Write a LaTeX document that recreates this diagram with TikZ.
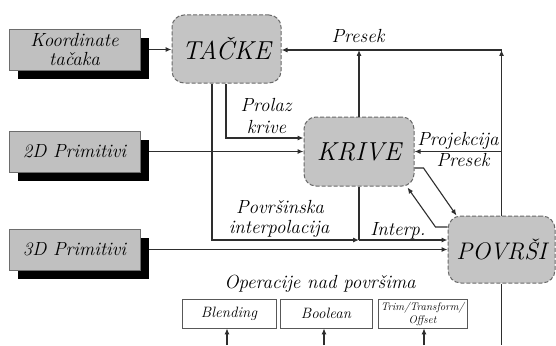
\documentclass[tikz,border=0pt]{standalone}
\usetikzlibrary{arrows.meta}
\newcommand\diagfont{\rmfamily\itshape}
\definecolor{boxgray}{HTML}{C0C0C0}
\definecolor{nodegray}{HTML}{C4C4C4}
\definecolor{dashgray}{HTML}{6A6A6A}
\definecolor{linecol}{HTML}{2E2E2E}
\begin{document}
\begin{tikzpicture}[x=1pt,y=-1pt,
 primbox/.style={draw=linecol!70, fill=boxgray, line width=0.8pt, minimum width=131pt, minimum height=41pt, inner sep=0pt, align=center, font=\diagfont\fontsize{19}{19}\selectfont},
 shadowbox/.style={fill=black, minimum width=131pt, minimum height=41pt, inner sep=0pt},
 mainnode/.style={draw=dashgray, dash pattern=on 4pt off 2pt, fill=nodegray, rounded corners=12pt, line width=1pt, inner sep=0pt, font=\diagfont\fontsize{26}{28}\selectfont},
 opbox/.style={draw=linecol!80, fill=white, line width=0.8pt, minimum height=29pt, inner sep=0pt, align=center, font=\diagfont\fontsize{15}{16}\selectfont},
 conn/.style={draw=linecol, line width=1.1pt},
 arr/.style={conn, -{Latex[length=6pt,width=5pt]}},
 lbl/.style={font=\diagfont\fontsize{19}{21}\selectfont, inner sep=0pt, anchor=base}
]
\fill[white] (0,0) rectangle (556,345);
\useasboundingbox (0,0) rectangle (556,345);

% source boxes with shadows
\node[shadowbox] (koordS) at (83.5,58.5) {};
\node[primbox] (koord) at (74.5,49.5) {Koordinate\\tačaka};
\node[shadowbox] (prim2S) at (83.5,160.5) {};
\node[primbox] (prim2) at (74.5,151.5) {2D Primitivi};
\node[shadowbox] (prim3S) at (83.5,258.5) {};
\node[primbox] (prim3) at (74.5,249.5) {3D Primitivi};

% main nodes
\node[mainnode, minimum width=109pt, minimum height=68pt] (tacke) at (226.5,49) {TAČKE};
\node[mainnode, minimum width=110pt, minimum height=69pt] (krive) at (359,151.5) {KRIVE};
\node[mainnode, minimum width=107pt, minimum height=67pt, rounded corners=13pt, font=\diagfont\fontsize{24}{26}\selectfont] (povrsi) at (501.5,249.5) {POVRŠI};

% operation boxes
\node[opbox, minimum width=94pt] (blend) at (229,313.5) {Blending};
\node[opbox, minimum width=92pt] (bool) at (326,313.5) {Boolean};
\node[opbox, minimum width=89pt, font=\diagfont\fontsize{11}{13}\selectfont] (trim) at (422.5,313.5) {Trim/Transform/\\Offset};

% coordinates
\coordinate (j) at (359,240);
\coordinate (pt) at (501.5,50);
\coordinate (kt) at (359,50);
\coordinate (bot) at (501.5,345);
\coordinate (bb1) at (227,345);
\coordinate (bb2) at (324,345);
\coordinate (bb3) at (424,345);

% connectors
\draw[arr] (koordS.east |- koord.east) -- (tacke.west |- koord.east);
\draw[arr] (prim2S.east |- prim2.east) -- (krive.west);
\draw[arr] (prim3S.east |- prim3.east) -- (povrsi.west);

\draw[arr] ([xshift=-14.5pt]tacke.south) |- (j);
\draw[conn] (krive.south) -- (j);
\draw[arr] (j) -- (j -| povrsi.west);
\draw[arr] ([xshift=-0.5pt]tacke.south) |- ([yshift=13.5pt]krive.west);

\draw[arr] (krive.north) -- (kt);
\draw[arr] (povrsi.north) -- (pt);
\draw[arr] (pt) -- (tacke.east |- pt);
\draw[arr] (pt |- krive.east) -- (krive.east);
\draw[conn] (povrsi.south) -- (bot);

\draw[arr] ([yshift=-16.5pt]krive.east) -- ++(9,0) -- ([xshift=9pt]povrsi.north west);
\draw[arr] ([yshift=22.5pt]povrsi.west) -- ++(-12,0) -- ([xshift=-7pt,yshift=-1pt]krive.south east);

\draw[arr] (bb1) -- (bb1 |- blend.south);
\draw[arr] (bb2) -- (bb2 |- bool.south);
\draw[arr] (bb3) -- (bb3 |- trim.south);

% labels
\node[lbl] (lPresek) at (358,43) {Presek};
\node[lbl] (lProlaz) at (266,111) {Prolaz};
\node[lbl] (lkrive) at (266.5,133) {krive};
\node[lbl] (lProj) at (458,145) {Projekcija};
\node[lbl] (lPres2) at (463,166) {Presek};
\node[lbl] (lPov) at (280,213) {Površinska};
\node[lbl] (lint) at (279,233) {interpolacija};
\node[lbl] (lInterp) at (398,235) {Interp.};
\node[lbl] (lOp) at (320,288) {Operacije nad površima};
\end{tikzpicture}
\end{document}
